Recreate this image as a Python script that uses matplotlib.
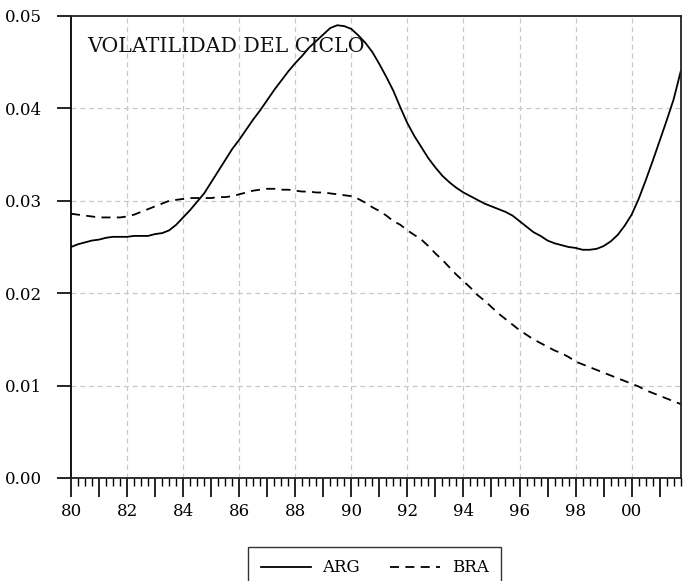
import numpy as np
import matplotlib
matplotlib.use("Agg")
import matplotlib.pyplot as plt
from matplotlib.ticker import MultipleLocator, FixedLocator, FuncFormatter

start_year = 1980
quarters_per_year = 4

arg = [
    0.0250, 0.0253, 0.0255, 0.0257,  # 1980
    0.0258, 0.0260, 0.0261, 0.0261,  # 1981
    0.0261, 0.0262, 0.0262, 0.0262,  # 1982
    0.0264, 0.0265, 0.0268, 0.0274,  # 1983
    0.0282, 0.0290, 0.0299, 0.0308,  # 1984
    0.0320, 0.0332, 0.0344, 0.0356,  # 1985
    0.0366, 0.0377, 0.0388, 0.0398,  # 1986
    0.0409, 0.0420, 0.0430, 0.0440,  # 1987
    0.0449, 0.0457, 0.0466, 0.0473,  # 1988
    0.0480, 0.0487, 0.0490, 0.0489,  # 1989
    0.0486, 0.0479, 0.0471, 0.0461,  # 1990
    0.0448, 0.0434, 0.0419, 0.0401,  # 1991
    0.0384, 0.0370, 0.0358, 0.0346,  # 1992
    0.0336, 0.0327, 0.0320, 0.0314,  # 1993
    0.0309, 0.0305, 0.0301, 0.0297,  # 1994
    0.0294, 0.0291, 0.0288, 0.0284,  # 1995
    0.0278, 0.0272, 0.0266, 0.0262,  # 1996
    0.0257, 0.0254, 0.0252, 0.0250,  # 1997
    0.0249, 0.0247, 0.0247, 0.0248,  # 1998
    0.0251, 0.0256, 0.0263, 0.0273,  # 1999
    0.0285, 0.0302, 0.0322, 0.0343,  # 2000
    0.0365, 0.0387, 0.0410, 0.0440,  # 2001
]

bra = [
    0.0286, 0.0285, 0.0284, 0.0283,  # 1980
    0.0282, 0.0282, 0.0282, 0.0282,  # 1981
    0.0283, 0.0285, 0.0288, 0.0291,  # 1982
    0.0294, 0.0297, 0.0300, 0.0301,  # 1983
    0.0302, 0.0303, 0.0303, 0.0303,  # 1984
    0.0303, 0.0304, 0.0304, 0.0305,  # 1985
    0.0307, 0.0309, 0.0311, 0.0312,  # 1986
    0.0313, 0.0313, 0.0312, 0.0312,  # 1987
    0.0311, 0.0310, 0.0310, 0.0309,  # 1988
    0.0309, 0.0308, 0.0307, 0.0306,  # 1989
    0.0305, 0.0302, 0.0298, 0.0293,  # 1990
    0.0289, 0.0284, 0.0278, 0.0274,  # 1991
    0.0268, 0.0263, 0.0258, 0.0251,  # 1992
    0.0243, 0.0236, 0.0228, 0.0220,  # 1993
    0.0213, 0.0206, 0.0198, 0.0192,  # 1994
    0.0185, 0.0178, 0.0172, 0.0166,  # 1995
    0.0160, 0.0155, 0.0150, 0.0146,  # 1996
    0.0142, 0.0138, 0.0135, 0.0131,  # 1997
    0.0126, 0.0123, 0.0120, 0.0117,  # 1998
    0.0114, 0.0111, 0.0108, 0.0105,  # 1999
    0.0102, 0.0099, 0.0095, 0.0092,  # 2000
    0.0089, 0.0086, 0.0083, 0.0080,  # 2001
]

series_labels = ["ARG", "BRA"]
title_text = "VOLATILIDAD DEL CICLO"
y_ticks = [0.00, 0.01, 0.02, 0.03, 0.04, 0.05]
x_label_years = list(range(1980, 2002, 2))

x = start_year + np.arange(len(arg)) / quarters_per_year

plt.rcParams['font.family'] = ['DejaVu Serif']

fig = plt.figure(figsize=(6.83, 5.81), dpi=100)
ax = fig.add_axes([71/683, 1 - 478/581, (680.7 - 71)/683, (478 - 16)/581])

ax.plot(x, arg, color='black', lw=1.3, label=series_labels[0])
ax.plot(x, bra, color='black', lw=1.3, ls=(0, (5, 3.5)), label=series_labels[1])

ax.set_xlim(x[0], x[-1])
ax.set_ylim(0.0, 0.05)

ax.yaxis.set_major_locator(FixedLocator(y_ticks))
ax.yaxis.set_major_formatter(FuncFormatter(lambda v, p: f"{v:.2f}"))

all_years = list(range(1980, 2002))
ax.xaxis.set_major_locator(FixedLocator(all_years))
ax.xaxis.set_major_formatter(FuncFormatter(
    lambda v, p: f"{int(round(v)) % 100:02d}" if int(round(v)) % 2 == 0 else ""))
ax.xaxis.set_minor_locator(MultipleLocator(0.25))

ax.tick_params(axis='x', which='major', direction='out', length=14, width=1.2,
               labelsize=12, pad=4, colors='black')
ax.tick_params(axis='x', which='minor', direction='out', length=6, width=1.0)
ax.tick_params(axis='y', which='major', direction='out', length=10, width=1.2,
               labelsize=12, pad=11)
ax.tick_params(axis='y', which='minor', left=False)

for xv in x_label_years[1:]:
    ax.axvline(xv, color='#c8c8c8', lw=0.9, ls=(0, (4, 3)), zorder=0)
for yv in y_ticks[1:-1]:
    ax.axhline(yv, color='#c8c8c8', lw=0.9, ls=(0, (4, 3)), zorder=0)

for side in ['left', 'right', 'top', 'bottom']:
    ax.spines[side].set_linewidth(1.3)
    ax.spines[side].set_color('#222222')
ax.spines['left'].set_color('black')

ax.text(0.027, 0.935, title_text, transform=ax.transAxes, fontsize=14.8,
        ha='left', va='center', color='#111111')

leg = fig.legend(loc='upper center', bbox_to_anchor=(374.5/683, 1 - 547/581),
                 ncol=2, frameon=True, fancybox=False, edgecolor='black',
                 fontsize=12, handlelength=3.0, columnspacing=1.8,
                 borderpad=0.75, handletextpad=0.7, borderaxespad=0)
leg.get_frame().set_linewidth(1.0)

fig.savefig("out.png", dpi=100)
